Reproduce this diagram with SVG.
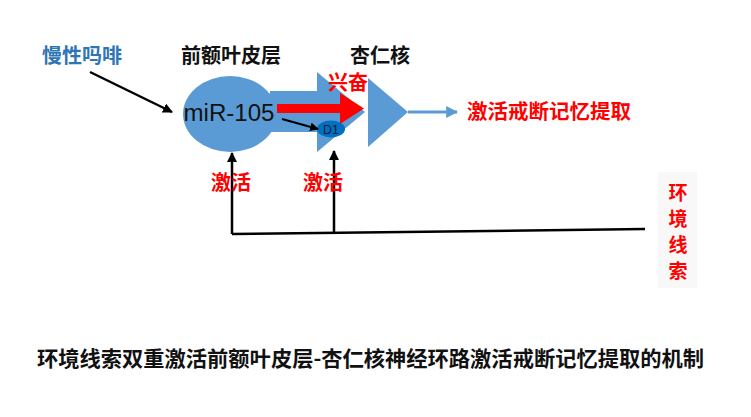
<svg xmlns="http://www.w3.org/2000/svg" width="751" height="417" viewBox="0 0 751 417">
<defs>
<style>
.cjk{font-family:"Noto Sans CJK SC","Noto Sans",sans-serif;font-weight:700}
.blk{fill:#111}
.red{fill:#FF0000}
.blu{fill:#2E75B6}
.shape{fill:#5B9BD5}
.ln{stroke:#000;stroke-width:2.5;fill:none}
</style>
<marker id="ah" viewBox="0 0 10 10" refX="9" refY="5" markerWidth="4" markerHeight="4" orient="auto" markerUnits="strokeWidth">
<path d="M0,0 L10,5 L0,10 z" fill="#000"/>
</marker>
<marker id="ahb" viewBox="0 0 10 10" refX="9" refY="5" markerWidth="4" markerHeight="4" orient="auto" markerUnits="strokeWidth">
<path d="M0,0 L10,5 L0,10 z" fill="#5B9BD5"/>
</marker>
</defs>
<rect width="751" height="417" fill="#fff"/>

<g id="pfc-arrow">
<path class="shape" d="M270,91 L317,91 L317,72 L365,112 L317,152 L317,132 L270,132 z"/>
</g>
<g id="mir105">
<ellipse class="shape" cx="230" cy="114" rx="47" ry="38"/>
<text x="229" y="121" font-family="'Liberation Sans',Arial,sans-serif" font-size="23" fill="#111" text-anchor="middle" textLength="91" lengthAdjust="spacingAndGlyphs">miR-105</text>
</g>
<g id="amygdala">
<path class="shape" d="M368,78 L408,112 L368,147 z"/>
</g>
<g id="d1">
<ellipse cx="331" cy="129" rx="14" ry="8.5" fill="#0070C0"/>
<text x="331" y="133.5" font-family="'Liberation Sans',Arial,sans-serif" font-size="12.5" fill="#1a1a3a" text-anchor="middle">D1</text>
</g>

<g id="connectors">
<path d="M277,104 L340,104 L340,93 L364,108.5 L340,124 L340,113 L277,113 z" fill="#FF0000"/>
<line x1="408" y1="112" x2="457" y2="112" stroke="#5B9BD5" stroke-width="3" marker-end="url(#ahb)"/>
<line class="ln" x1="90" y1="72" x2="172" y2="112" marker-end="url(#ah)"/>
<line x1="282" y1="119" x2="318" y2="129" stroke="#000" stroke-width="2.2" marker-end="url(#ah)"/>
<polyline class="ln" points="645,229 232,234"/>
<line class="ln" x1="232" y1="234" x2="232" y2="153" marker-end="url(#ah)"/>
<line class="ln" x1="334" y1="233" x2="334" y2="151" marker-end="url(#ah)"/>
</g>

<g id="labels">
<text class="cjk blu" x="42" y="63" font-size="20">慢性吗啡</text>
<text class="cjk blk" x="231" y="63" font-size="20" text-anchor="middle">前额叶皮层</text>
<text class="cjk blk" x="380" y="63" font-size="20" text-anchor="middle">杏仁核</text>
<text class="cjk red" x="348" y="90" font-size="20" text-anchor="middle">兴奋</text>
<text class="cjk red" x="231" y="190" font-size="20" text-anchor="middle">激活</text>
<text class="cjk red" x="323" y="190" font-size="20" text-anchor="middle">激活</text>
<text class="cjk red" x="467" y="119" font-size="20.5">激活戒断记忆提取</text>
</g>
<g id="env-cue">
<rect x="658" y="172" width="39" height="116" fill="#F8F8F8"/>
<text class="cjk red" x="678" y="200" font-size="19" text-anchor="middle">环</text>
<text class="cjk red" x="678" y="226" font-size="19" text-anchor="middle">境</text>
<text class="cjk red" x="678" y="252" font-size="19" text-anchor="middle">线</text>
<text class="cjk red" x="678" y="278" font-size="19" text-anchor="middle">索</text>
</g>
<g id="title">
<text class="cjk blk" x="37" y="366" font-size="21" textLength="667" lengthAdjust="spacingAndGlyphs">环境线索双重激活前额叶皮层-杏仁核神经环路激活戒断记忆提取的机制</text>
</g>
</svg>
